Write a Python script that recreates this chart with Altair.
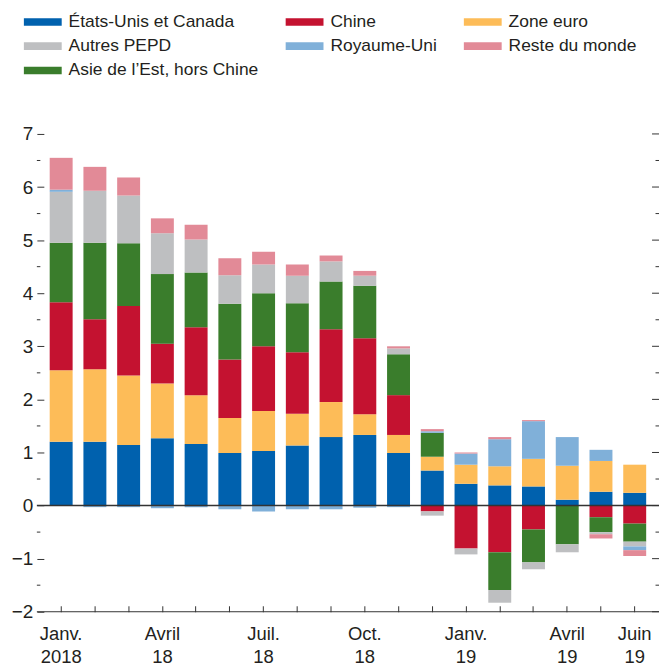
import altair as alt
import pandas as pd

# ---- data ----
mois = ["Janv.|2018", "Févr.|18", "Mars|18", "Avril|18", "Mai|18", "Juin|18",
        "Juil.|18", "Août|18", "Sept.|18", "Oct.|18", "Nov.|18", "Déc.|18",
        "Janv.|19", "Févr.|19", "Mars|19", "Avril|19", "Mai|19", "Juin|19"]
mois_affiches = ["Janv.|2018", "Avril|18", "Juil.|18", "Oct.|18", "Janv.|19", "Avril|19", "Juin|19"]

etats_unis = [1.20, 1.20, 1.14, 1.27, 1.16, 0.99, 1.03, 1.13, 1.29, 1.33, 0.99, 0.66, 0.41, 0.38, 0.36, 0.11, 0.26, 0.24]
zone_euro = [1.35, 1.37, 1.31, 1.03, 0.92, 0.66, 0.75, 0.60, 0.66, 0.39, 0.34, 0.26, 0.36, 0.36, 0.52, 0.64, 0.58, 0.53]
chine = [1.28, 0.94, 1.31, 0.75, 1.28, 1.10, 1.22, 1.16, 1.37, 1.43, 0.75, -0.11, -0.81, -0.88, -0.45, 0.00, -0.22, -0.34]
asie_est = [1.12, 1.44, 1.18, 1.31, 1.03, 1.05, 1.00, 0.92, 0.90, 0.99, 0.77, 0.45, 0.00, -0.71, -0.62, -0.73, -0.28, -0.34]
autres_pepd = [0.96, 0.98, 0.90, 0.77, 0.62, 0.54, 0.54, 0.52, 0.38, 0.19, 0.11, -0.08, -0.11, -0.24, -0.13, -0.15, -0.04, -0.09]
royaume_uni = [0.04, -0.03, -0.03, -0.05, -0.03, -0.07, -0.11, -0.07, -0.07, -0.04, -0.03, 0.03, 0.21, 0.51, 0.71, 0.54, 0.21, -0.07]
reste_monde = [0.60, 0.45, 0.34, 0.28, 0.28, 0.32, 0.24, 0.21, 0.11, 0.09, 0.04, 0.04, 0.02, 0.04, 0.02, 0.00, -0.08, -0.11]

noms_pile = ["États-Unis et Canada", "Zone euro", "Chine", "Asie de l’Est, hors Chine",
             "Autres PEPD", "Royaume-Uni", "Reste du monde"]
valeurs_pile = [etats_unis, zone_euro, chine, asie_est, autres_pepd, royaume_uni, reste_monde]

ordre_legende = ["États-Unis et Canada", "Chine", "Zone euro", "Autres PEPD",
                 "Royaume-Uni", "Reste du monde", "Asie de l’Est, hors Chine"]
couleurs = ["#0061AE", "#C41230", "#FDBC58", "#BEBFC1", "#80B0D9", "#E28A97", "#3A7D2C"]

graduations = [-2, -1, 0, 1, 2, 3, 4, 5, 6, 7]
demi_graduations = [-1.5, -0.5, 0.5, 1.5, 2.5, 3.5, 4.5, 5.5, 6.5]

rows = []
for rang, (nom, vals) in enumerate(zip(noms_pile, valeurs_pile)):
    for m, v in zip(mois, vals):
        rows.append({"mois": m, "region": nom, "valeur": v, "rang": rang})
df = pd.DataFrame(rows)

W, H = 625, 480
FONT = "Liberation Sans, Arial, sans-serif"
INK = "#231F20"

yscale = alt.Scale(domain=[-2, 7], nice=False, zero=False)

label_expr = ("indexof(" + str(mois_affiches) + ", datum.value) >= 0 ? "
              "split(datum.value, '|') : ''")

bars = alt.Chart(df).mark_bar().encode(
    x=alt.X("mois:N", sort=mois, title=None,
            scale=alt.Scale(paddingInner=0.32, paddingOuter=0.38),
            axis=alt.Axis(offset=-6, tickSize=6, domain=False, labelAngle=0,
                          labelExpr=label_expr, labelPadding=13, labelFont=FONT,
                          labelFontSize=18.5, labelLineHeight=23, labelColor=INK,
                          tickColor="#333333", labelOverlap=False, labelBound=False)),
    y=alt.Y("valeur:Q", stack="zero", scale=yscale, title=None,
            axis=alt.Axis(values=graduations, offset=-7, tickSize=7, domain=False,
                          grid=False, labelPadding=4, labelFont=FONT, labelFontSize=19,
                          labelColor=INK, tickColor="#333333")),
    color=alt.Color("region:N",
                    scale=alt.Scale(domain=ordre_legende, range=couleurs),
                    legend=alt.Legend(title=None, orient="none", legendX=-2.8, legendY=-121.5,
                                      direction="horizontal", columns=3, columnPadding=26,
                                      rowPadding=5.5, symbolType="M-5,-1H5V1H-5Z",
                                      symbolSize=57.76, symbolStrokeWidth=0, labelOffset=17.2,
                                      labelFont=FONT, labelFontSize=17.5, labelLimit=400,
                                      labelColor=INK, padding=0)),
    order=alt.Order("rang:Q", sort="ascending"),
)

zero_df = pd.DataFrame({"valeur": [0]})
bas_df = pd.DataFrame({"valeur": [-2]})
maj_df = pd.DataFrame({"valeur": graduations})
min_df = pd.DataFrame({"valeur": demi_graduations})

zero_line = alt.Chart(zero_df).mark_rule(color="#333333", strokeWidth=1.6).encode(
    y=alt.Y("valeur:Q", scale=yscale))
bottom_line = alt.Chart(bas_df).mark_rule(color="#333333", strokeWidth=1).encode(
    y=alt.Y("valeur:Q", scale=yscale))
left_minor = alt.Chart(min_df).mark_rule(color="#333333", strokeWidth=1).encode(
    y=alt.Y("valeur:Q", scale=yscale), x=alt.value(0), x2=alt.value(3.5))
right_major = alt.Chart(maj_df).mark_rule(color="#333333", strokeWidth=1).encode(
    y=alt.Y("valeur:Q", scale=yscale), x=alt.value(W - 7), x2=alt.value(W))
right_minor = alt.Chart(min_df).mark_rule(color="#333333", strokeWidth=1).encode(
    y=alt.Y("valeur:Q", scale=yscale), x=alt.value(W - 3.5), x2=alt.value(W))

chart = alt.layer(bars, zero_line, bottom_line, left_minor, right_major, right_minor).properties(
    width=W, height=H,
    autosize=alt.AutoSizeParams(type="none"),
    padding={"left": 29, "top": 125, "right": 0, "bottom": 56},
    background="white",
).configure_view(stroke=None)

chart.save("out.html", embed_options={"renderer": "svg", "actions": False})
